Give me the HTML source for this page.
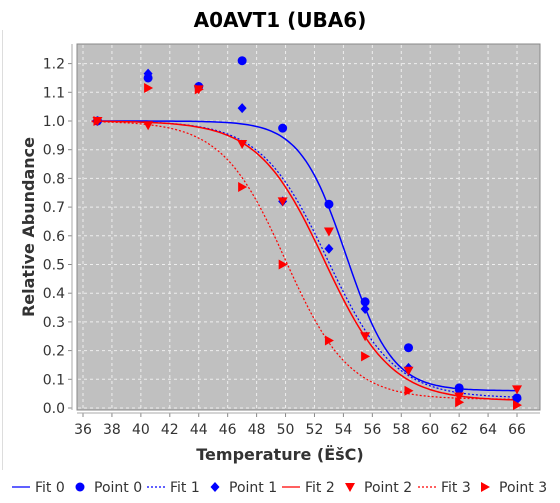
<!DOCTYPE html>
<html><head><meta charset="utf-8"><style>
body{margin:0;background:#fff;font-family:"Liberation Sans","DejaVu Sans",sans-serif}
svg text{font-family:"DejaVu Sans","Liberation Sans",sans-serif}
</style></head><body>
<svg id="c" width="560" height="498" xmlns="http://www.w3.org/2000/svg">
<line x1="2.5" y1="30" x2="2.5" y2="470" stroke="#ddd"/>
<text x="280" y="27" text-anchor="middle" font-size="20" font-weight="bold" fill="#000">A0AVT1 (UBA6)</text>
<rect x="77" y="44" width="463" height="366" fill="#c0c0c0" stroke="#888"/>
<g id="grid"></g><g id="axes"></g><g id="series"></g>
<text x="280" y="460" text-anchor="middle" font-size="16" font-weight="bold" fill="#333">Temperature (ËšC)</text>
<text transform="translate(34,227) rotate(-90)" text-anchor="middle" font-size="16" font-weight="bold" fill="#333">Relative Abundance</text>
<g id="legend"></g>
</svg>
<script>
const temps=[37,40.5,44,47,49.8,53,55.5,58.5,62,66];
const point0=[1.0,1.15,1.12,1.21,0.975,0.71,0.37,0.21,0.07,0.035];
const point1=[1.0,1.165,1.12,1.045,0.72,0.555,0.345,0.14,0.06,0.03];
const point2=[1.0,0.985,1.11,0.92,0.72,0.615,0.25,0.13,0.04,0.065];
const point3=[1.0,1.115,1.11,0.77,0.5,0.235,0.18,0.06,0.02,0.01];
const fitTm=[54.2,52.9,52.7,50.0];
const fitSlope=[1.6,2.3,2.3,2.2];
const fitPlateau=[0.06,0.035,0.025,0.03];
const xTicks=[36,38,40,42,44,46,48,50,52,54,56,58,60,62,64,66];
const yTicks=[0.0,0.1,0.2,0.3,0.4,0.5,0.6,0.7,0.8,0.9,1.0,1.1,1.2];
const NS="http://www.w3.org/2000/svg";
const xs=v=>83+(v-36)*14.467;
const ys=v=>408-v*287;
function mk(tag,at,parent){const e=document.createElementNS(NS,tag);for(const k in at)e.setAttribute(k,at[k]);parent.appendChild(e);return e;}
const grid=document.getElementById('grid'),axes=document.getElementById('axes'),ser=document.getElementById('series'),leg=document.getElementById('legend');
xTicks.forEach(t=>{const x=xs(t);
 const g=mk('line',{x1:x,y1:45,x2:x,y2:409,stroke:'#eee','stroke-dasharray':'3,3'},grid);
 
 
 const tk=mk('line',{x1:x,y1:413,x2:x,y2:417,stroke:'#888'},axes);
 
 
 const l=mk('text',{x:x,y:434,'text-anchor':'middle','font-size':14,fill:'#333'},axes);l.textContent=t;
 
 });
yTicks.forEach(t=>{const y=ys(t);
 const g=mk('line',{x1:78,y1:y,x2:539,y2:y,stroke:'#eee','stroke-dasharray':'3,3'},grid);
 
 
 const tk=mk('line',{x1:68,y1:y,x2:72,y2:y,stroke:'#888'},axes);
 
 
 const l=mk('text',{x:65,y:y+5,'text-anchor':'end','font-size':14,fill:'#333'},axes);l.textContent=t.toFixed(1);
 
 });
const ax1=mk('line',{x1:72,y1:44,x2:72,y2:410,stroke:'#aaa'},axes);


const ax2=mk('line',{x1:77,y1:413,x2:540,y2:413,stroke:'#aaa'},axes);


const colors=['#0000ff','#0000ff','#ff0000','#ff0000'];
const dashes=['none','2,2','none','2,2'];
for(let i=0;i<4;i++){let d='';
 for(let T=36.6;T<=66.01;T+=0.2){const v=fitPlateau[i]+(1-fitPlateau[i])/(1+Math.exp((T-fitTm[i])/fitSlope[i]));d+=(d?'L':'M')+xs(T).toFixed(1)+','+ys(v).toFixed(1);}
 const p=mk('path',{d:d,fill:'none',stroke:colors[i],'stroke-width':i%2?1.2:1.5,'stroke-dasharray':dashes[i]},ser);
 
 }
function marker(type,x,y,col,parent){let e;
 if(type==0)e=mk('circle',{cx:x,cy:y,r:4.5,fill:col},parent);
 else if(type==1)e=mk('polygon',{points:`${x},${y-5} ${x+4.5},${y} ${x},${y+5} ${x-4.5},${y}`,fill:col},parent);
 else if(type==2)e=mk('polygon',{points:`${x-5},${y-4} ${x+5},${y-4} ${x},${y+5}`,fill:col},parent);
 else e=mk('polygon',{points:`${x-4},${y-5} ${x+5},${y} ${x-4},${y+5}`,fill:col},parent);
 return e;}
[point0,point1,point2,point3].forEach((arr,i)=>{arr.forEach((v,j)=>{
 const m=marker(i,xs(temps[j]),ys(v),colors[i],ser);
 
 });});
const legItems=[[12,'Fit 0',0],[94,'Point 0',1],[147,'Fit 1',2],[229,'Point 1',3],[282,'Fit 2',4],[364,'Point 2',5],[418,'Fit 3',6],[499,'Point 3',7]];
legItems.forEach(([x,label,k])=>{const s=Math.floor(k/2);
 if(k%2==0){const l=mk('line',{x1:x,y1:487,x2:x+18,y2:487,stroke:colors[s],'stroke-width':1.3,'stroke-dasharray':dashes[s]},leg);
  
  
  const t=mk('text',{x:x+23,y:492,'font-size':14,fill:'#333'},leg);t.textContent=label;
  
  }
 else{const m=marker(s,x-14,487,colors[s],leg);
  
  
  const t=mk('text',{x:x,y:492,'font-size':14,fill:'#333'},leg);t.textContent=label;
  
  }});
</script>
</body></html>
